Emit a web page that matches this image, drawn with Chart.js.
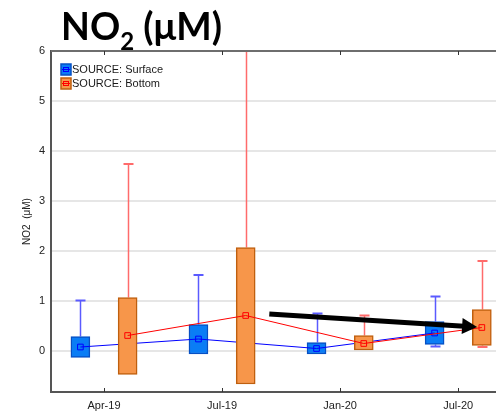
<!DOCTYPE html>
<html>
<head>
<meta charset="utf-8">
<script src="https://cdn.jsdelivr.net/npm/chart.js@4.4.0/dist/chart.umd.min.js"></script>
<style>
  html, body { margin: 0; padding: 0; background: #ffffff; }
  #wrap { position: relative; width: 496px; height: 414px; overflow: hidden; }
  #title { position: absolute; left: 61px; top: 6px; font-family: Lato, "Open Sans", sans-serif; font-weight: 700; font-size: 37.5px; line-height: 40px; color: #000; white-space: nowrap; }
  #title sub { font-size: 24px; vertical-align: -10px; line-height: 0; }
  canvas { position: absolute; left: 0; top: 0; }
</style>
</head>
<body>
<div id="wrap">
  <canvas id="c" width="496" height="414" style="width:496px;height:414px"></canvas>
  <div id="title">NO<sub>2</sub> (μM)</div>
</div>
<script>
// ---- data ----
const categories = ['Apr-19', 'Jul-19', 'Jan-20', 'Jul-20'];
const categoryPos = [1, 2, 3, 4];
const seriesNames = ['SOURCE: Surface', 'SOURCE: Bottom'];
const yTickValues = [0, 1, 2, 3, 4, 5, 6];

const surfaceMean    = [0.08, 0.24, 0.05, 0.36];
const surfaceBoxLow  = [-0.13, -0.06, -0.06, 0.13];
const surfaceBoxHigh = [0.29, 0.53, 0.17, 0.59];
const surfaceMax     = [1.01, 1.52, 0.75, 1.09];
const surfaceMin     = [null, null, null, 0.09];

const bottomMean    = [0.31, 0.71, 0.15, 0.47];
const bottomBoxLow  = [-0.47, -0.66, 0.00, 0.11];
const bottomBoxHigh = [1.07, 2.07, 0.31, 0.83];
const bottomMax     = [3.74, 6.60, 0.71, 1.80];
const bottomMin     = [null, null, null, 0.08];

// trend arrow annotation (data units)
const arrowStart = { x: 2.40, y: 0.74 };
const arrowEnd   = { x: 4.16, y: 0.48 };

// ---- styling ----
const seriesOffset = [-0.2, 0.2];
const surfaceStyle = { fill: '#0a7df5', border: '#0650c4', line: '#0000ff', whisker: '#5a5aff' };
const bottomStyle  = { fill: '#f7964a', border: '#bf5f0e', line: '#ff0000', whisker: '#ff6b6b' };

function boxData(low, high, off) {
  return categoryPos.map((p, i) => ({ x: p + off, y: [low[i], high[i]] }));
}
function meanData(mean, off) {
  return categoryPos.map((p, i) => ({ x: p + off, y: mean[i] }));
}

const datasets = [
  {
    type: 'bar', label: seriesNames[0],
    data: boxData(surfaceBoxLow, surfaceBoxHigh, seriesOffset[0]),
    backgroundColor: surfaceStyle.fill, borderColor: surfaceStyle.border,
    borderWidth: 1.5, borderSkipped: false, barThickness: 19, grouped: false,
    whiskerMax: surfaceMax, whiskerMin: surfaceMin, whiskerColor: surfaceStyle.whisker,
    boxLow: surfaceBoxLow, boxHigh: surfaceBoxHigh,
    order: 6
  },
  {
    type: 'line', label: seriesNames[0] + ' mean',
    data: meanData(surfaceMean, seriesOffset[0]),
    borderColor: surfaceStyle.line, borderWidth: 1,
    pointStyle: 'rect', pointRadius: 4, pointBorderWidth: 1,
    pointBorderColor: surfaceStyle.line, pointBackgroundColor: 'rgba(0,0,0,0)',
    tension: 0, order: 5
  },
  {
    type: 'bar', label: seriesNames[1],
    data: boxData(bottomBoxLow, bottomBoxHigh, seriesOffset[1]),
    backgroundColor: bottomStyle.fill, borderColor: bottomStyle.border,
    borderWidth: 1.5, borderSkipped: false, barThickness: 19, grouped: false,
    whiskerMax: bottomMax, whiskerMin: bottomMin, whiskerColor: bottomStyle.whisker,
    boxLow: bottomBoxLow, boxHigh: bottomBoxHigh,
    order: 4
  },
  {
    type: 'line', label: seriesNames[1] + ' mean',
    data: meanData(bottomMean, seriesOffset[1]),
    borderColor: bottomStyle.line, borderWidth: 1,
    pointStyle: 'rect', pointRadius: 4, pointBorderWidth: 1,
    pointBorderColor: bottomStyle.line, pointBackgroundColor: 'rgba(0,0,0,0)',
    tension: 0, order: 3
  }
];

const whiskerPlugin = {
  id: 'whiskers',
  beforeDatasetDraw(chart, args) {
    const ds = chart.data.datasets[args.index];
    if (!ds.whiskerMax) return;
    const { ctx, chartArea } = chart;
    const xs = chart.scales.x, ys = chart.scales.y;
    ctx.save();
    ctx.beginPath();
    ctx.rect(chartArea.left, chartArea.top, chartArea.right - chartArea.left, chartArea.bottom - chartArea.top);
    ctx.clip();
    ctx.strokeStyle = ds.whiskerColor;
    ds.data.forEach((d, i) => {
      const x = Math.round(xs.getPixelForValue(d.x)) + 0.5;
      const capHalf = 5;
      const pairs = [[ds.boxHigh[i], ds.whiskerMax[i]], [ds.boxLow[i], ds.whiskerMin[i]]];
      pairs.forEach(([from, to]) => {
        if (to === null || to === undefined) return;
        const y0 = ys.getPixelForValue(from), y1 = ys.getPixelForValue(to);
        ctx.lineWidth = 1.5;
        ctx.beginPath(); ctx.moveTo(x, y0); ctx.lineTo(x, y1); ctx.stroke();
        ctx.lineWidth = 2;
        ctx.beginPath(); ctx.moveTo(x - capHalf, y1); ctx.lineTo(x + capHalf, y1); ctx.stroke();
      });
    });
    ctx.restore();
  }
};

const decorPlugin = {
  id: 'decor',
  afterDraw(chart) {
    const { ctx, chartArea } = chart;
    const xs = chart.scales.x, ys = chart.scales.y;
    ctx.save();
    // top border
    ctx.strokeStyle = '#6e6e6e'; ctx.lineWidth = 2;
    ctx.beginPath(); ctx.moveTo(chartArea.left, chartArea.top); ctx.lineTo(chartArea.right, chartArea.top); ctx.stroke();
    // inside tick marks at top and bottom
    ctx.strokeStyle = '#333'; ctx.lineWidth = 1;
    categoryPos.forEach(p => {
      const x = Math.round(xs.getPixelForValue(p)) + 0.5;
      ctx.beginPath(); ctx.moveTo(x, chartArea.bottom); ctx.lineTo(x, chartArea.bottom - 4); ctx.stroke();
      ctx.beginPath(); ctx.moveTo(x, chartArea.top); ctx.lineTo(x, chartArea.top + 4); ctx.stroke();
    });
    // legend
    const styles = [surfaceStyle, bottomStyle];
    ctx.font = '11px "Liberation Sans", Arial, sans-serif';
    ctx.textBaseline = 'middle';
    styles.forEach((st, i) => {
      const lx = chartArea.left + 10, ly = chartArea.top + 13 + i * 14;
      ctx.fillStyle = st.fill; ctx.strokeStyle = st.border; ctx.lineWidth = 1.5;
      ctx.fillRect(lx, ly, 10, 11); ctx.strokeRect(lx, ly, 10, 11);
      ctx.strokeStyle = st.line; ctx.lineWidth = 1;
      ctx.strokeRect(lx + 2.5, ly + 3.5, 5, 4);
      ctx.beginPath(); ctx.moveTo(lx + 1, ly + 5.5); ctx.lineTo(lx + 9, ly + 5.5); ctx.stroke();
      ctx.fillStyle = '#1a1a1a';
      ctx.fillText(seriesNames[i], lx + 11, ly + 6);
    });
    // trend arrow
    const x0 = xs.getPixelForValue(arrowStart.x), y0 = ys.getPixelForValue(arrowStart.y);
    const x1 = xs.getPixelForValue(arrowEnd.x), y1 = ys.getPixelForValue(arrowEnd.y);
    const ang = Math.atan2(y1 - y0, x1 - x0);
    const headLen = 15, headHalf = 8;
    const bx = x1 - headLen * Math.cos(ang), by = y1 - headLen * Math.sin(ang);
    ctx.strokeStyle = '#000'; ctx.fillStyle = '#000'; ctx.lineWidth = 5; ctx.lineCap = 'butt';
    ctx.beginPath(); ctx.moveTo(x0, y0); ctx.lineTo(bx + 2 * Math.cos(ang), by + 2 * Math.sin(ang)); ctx.stroke();
    ctx.beginPath();
    ctx.moveTo(x1, y1);
    ctx.lineTo(bx - headHalf * Math.sin(ang), by + headHalf * Math.cos(ang));
    ctx.lineTo(bx + headHalf * Math.sin(ang), by - headHalf * Math.cos(ang));
    ctx.closePath(); ctx.fill();
    ctx.restore();
  }
};

new Chart(document.getElementById('c'), {
  data: { datasets },
  options: {
    responsive: false,
    animation: false,
    devicePixelRatio: 1,
    layout: { autoPadding: false, padding: { top: 51, right: 0, left: 0, bottom: 0 } },
    plugins: { legend: { display: false }, tooltip: { enabled: false }, title: { display: false } },
    scales: {
      x: {
        type: 'linear', min: 0.551, max: 4.32, offset: false,
        afterBuildTicks: s => { s.ticks = categoryPos.map(v => ({ value: v })); },
        afterFit: s => { s.height = 22; s.paddingRight = 0; s.paddingLeft = 0; },
        ticks: { callback: v => categories[categoryPos.indexOf(v)] ?? '', color: '#222', padding: 7, maxRotation: 0,
                 font: { family: '"Liberation Sans", Arial, sans-serif', size: 11 } },
        grid: { display: true, drawOnChartArea: false, drawTicks: false },
        border: { color: '#555', width: 2 }
      },
      y: {
        type: 'linear', min: -0.82, max: 6,
        afterBuildTicks: s => { s.ticks = yTickValues.map(v => ({ value: v })); },
        afterFit: s => { s.width = 51; s.paddingTop = 0; s.paddingBottom = 0; },
        ticks: { color: '#222', padding: 6, font: { family: '"Liberation Sans", Arial, sans-serif', size: 11 } },
        grid: { color: '#e6e6e6', lineWidth: 2, drawTicks: false },
        border: { color: '#555', width: 2 },
        title: { display: true, text: 'NO2  (μM)', color: '#222', padding: { top: 21, bottom: 0 },
                 font: { family: '"Liberation Sans", Arial, sans-serif', size: 10 } }
      }
    }
  },
  plugins: [whiskerPlugin, decorPlugin]
});
</script>
</body>
</html>
